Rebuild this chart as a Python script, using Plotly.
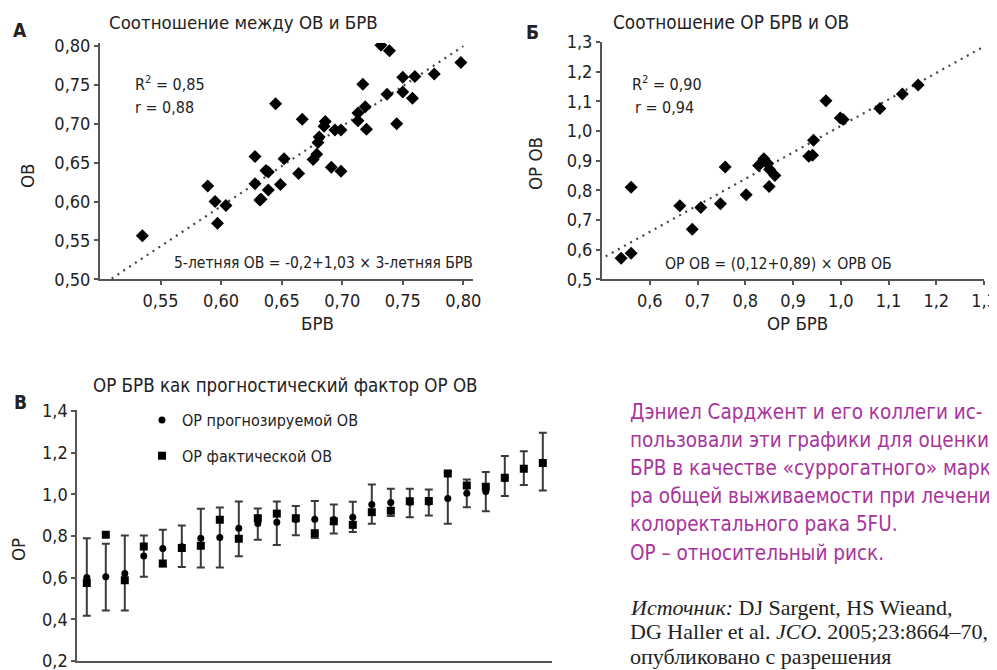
import plotly.graph_objects as go

# page body has an 8px margin: build the figure so that it fills the window exactly
OFF = 8
W, H = 997 - OFF, 670 - OFF
FONT = "DejaVu Sans Condensed, Liberation Sans Narrow, sans-serif"
SERIF = "Liberation Serif, DejaVu Serif, serif"
INK = "#222222"
AXC = "#555555"
MAG = "#A9339B"

# ---------------- Panel A data ----------------
a_brv = [0.535, 0.589, 0.595, 0.597, 0.604, 0.628, 0.628, 0.632, 0.633, 0.637,
         0.639, 0.639, 0.645, 0.649, 0.652, 0.664, 0.667, 0.676, 0.679, 0.680,
         0.681, 0.685, 0.686, 0.691, 0.694, 0.699, 0.699, 0.713, 0.713, 0.719,
         0.720, 0.717, 0.732, 0.739, 0.737, 0.745, 0.750, 0.750, 0.758, 0.760,
         0.776, 0.798]
a_ov = [0.556, 0.620, 0.600, 0.572, 0.595, 0.658, 0.623, 0.602, 0.603, 0.640,
        0.638, 0.615, 0.726, 0.622, 0.655, 0.636, 0.706, 0.654, 0.661, 0.676,
        0.683, 0.697, 0.703, 0.644, 0.692, 0.692, 0.639, 0.714, 0.704, 0.722,
        0.693, 0.751, 0.801, 0.794, 0.738, 0.700, 0.760, 0.741, 0.733, 0.761,
        0.764, 0.779]
a_trend_x = [0.500, 0.800]
a_trend_b0, a_trend_b1 = -0.024, 1.03
a_xticks = [0.55, 0.60, 0.65, 0.70, 0.75, 0.80]
a_yticks = [0.50, 0.55, 0.60, 0.65, 0.70, 0.75, 0.80]

# ---------------- Panel Б data ----------------
b_or_brv = [0.540, 0.561, 0.561, 0.663, 0.689, 0.707, 0.748, 0.758, 0.802, 0.828,
            0.839, 0.847, 0.851, 0.862, 0.850, 0.933, 0.941, 0.943, 0.969, 0.999,
            1.005, 1.082, 1.129, 1.162]
b_or_ov = [0.571, 0.588, 0.810, 0.748, 0.669, 0.742, 0.755, 0.879, 0.785, 0.884,
           0.906, 0.890, 0.870, 0.850, 0.813, 0.915, 0.918, 0.969, 1.102, 1.044,
           1.039, 1.076, 1.125, 1.155]
b_trend_x = [0.495, 1.300]
b_trend_b0, b_trend_b1 = 0.124, 0.893
b_xticks = [0.6, 0.7, 0.8, 0.9, 1.0, 1.1, 1.2, 1.3]
b_yticks = [0.5, 0.6, 0.7, 0.8, 0.9, 1.0, 1.1, 1.2, 1.3]

# ---------------- Panel В data ----------------
v_idx = list(range(1, 26))
v_pred = [0.601, 0.604, 0.620, 0.704, 0.740, 0.748, 0.789, 0.793, 0.837, 0.859,
          0.866, 0.879, 0.880, 0.879, 0.890, 0.951, 0.960, 0.962, 0.962, 0.980,
          1.005, 1.013, 1.074, 1.125, 1.152]
v_actual = [0.574, 0.806, 0.587, 0.749, 0.668, 0.742, 0.753, 0.877, 0.787, 0.885,
            0.907, 0.885, 0.813, 0.870, 0.853, 0.914, 0.921, 0.966, 0.968, 1.100,
            1.042, 1.036, 1.079, 1.122, 1.150]
v_lower = [0.417, 0.442, 0.442, 0.604, 0.655, 0.651, 0.648, 0.648, 0.702, 0.782,
           0.757, 0.803, 0.790, 0.811, 0.819, 0.858, 0.896, 0.890, 0.898, 0.858,
           0.938, 0.918, 0.991, 1.044, 1.018]
v_upper = [0.789, 0.763, 0.802, 0.802, 0.829, 0.850, 0.930, 0.936, 0.965, 0.931,
           0.965, 0.943, 0.968, 0.951, 0.964, 1.047, 1.026, 1.026, 1.023, 1.106,
           1.071, 1.106, 1.183, 1.206, 1.295]
v_yticks = [0.2, 0.4, 0.6, 0.8, 1.0, 1.2, 1.4]


def px(x):
    return (x - OFF) / W


def py(y):
    return 1 - (y - OFF) / H


fig = go.Figure()

# Panel A
fig.add_trace(go.Scatter(
    x=a_trend_x, y=[a_trend_b0 + a_trend_b1 * v for v in a_trend_x],
    mode="lines", line=dict(color="#444444", width=2.2, dash="2px,5px"),
    xaxis="x", yaxis="y", showlegend=False, hoverinfo="skip"))
fig.add_trace(go.Scatter(
    x=a_brv, y=a_ov, mode="markers",
    marker=dict(symbol="diamond", size=10, color="black"),
    xaxis="x", yaxis="y", showlegend=False))

# Panel Б
fig.add_trace(go.Scatter(
    x=b_trend_x, y=[b_trend_b0 + b_trend_b1 * v for v in b_trend_x],
    mode="lines", line=dict(color="#444444", width=2.2, dash="2px,5px"),
    xaxis="x2", yaxis="y2", showlegend=False, hoverinfo="skip"))
fig.add_trace(go.Scatter(
    x=b_or_brv, y=b_or_ov, mode="markers",
    marker=dict(symbol="diamond", size=10, color="black"),
    xaxis="x2", yaxis="y2", showlegend=False))

# Panel В
fig.add_trace(go.Scatter(
    x=v_idx, y=v_pred, mode="markers", name="ОР прогнозируемой ОВ",
    marker=dict(symbol="circle", size=7, color="black"),
    error_y=dict(type="data", symmetric=False,
                 array=[u - p for u, p in zip(v_upper, v_pred)],
                 arrayminus=[p - l for p, l in zip(v_pred, v_lower)],
                 color="#3a3a3a", thickness=2, width=4),
    xaxis="x3", yaxis="y3", legendgroup="a"))
fig.add_trace(go.Scatter(
    x=v_idx, y=v_actual, mode="markers", name="ОР фактической ОВ",
    marker=dict(symbol="square", size=8, color="black"),
    xaxis="x3", yaxis="y3", legendgroup="b"))

axis_common = dict(showline=True, linecolor=AXC, linewidth=2, showgrid=False,
                   zeroline=False, ticks="outside", ticklen=4, tickcolor=AXC,
                   tickwidth=1.5, ticklabeloverflow="allow",
                   tickfont=dict(family=FONT, size=18, color=INK))

fig.update_layout(
    width=W, height=H, margin=dict(l=0, r=0, t=0, b=0, autoexpand=False),
    paper_bgcolor="white", plot_bgcolor="white",
    separators=", ",
    font=dict(family=FONT, color=INK),
    xaxis=dict(domain=[px(100), px(473)], range=[0.50, 0.808], anchor="y",
               tickvals=a_xticks, tickformat=".2f", **axis_common),
    yaxis=dict(domain=[py(279.3), py(43)], range=[0.50, 0.804], anchor="x",
               tickvals=a_yticks, tickformat=".2f", **axis_common),
    xaxis2=dict(domain=[px(602), px(984)], range=[0.50, 1.30], anchor="y2",
                tickvals=b_xticks, tickformat=".1f", **axis_common),
    yaxis2=dict(domain=[py(279.3), py(42)], range=[0.50, 1.30], anchor="x2",
                tickvals=b_yticks, tickformat=".1f", **axis_common),
    xaxis3=dict(domain=[px(77.3), px(552.3)], range=[0.5, 25.5], anchor="y3",
                showline=True, linecolor=AXC, linewidth=2, showgrid=False,
                zeroline=False, showticklabels=False, ticks=""),
    yaxis3=dict(domain=[py(661), py(410)], range=[0.2, 1.404], anchor="x3",
                tickvals=v_yticks, tickformat=".1f", **axis_common),
    legend=dict(x=px(142), y=py(403), xanchor="left", yanchor="top",
                bgcolor="rgba(0,0,0,0)", font=dict(family=FONT, size=16, color=INK),
                traceorder="grouped", tracegroupgap=12, itemwidth=30),
)

ann = []


def text(x, y, s, size=18, anchor="left", color=INK, family=FONT, angle=0, bold=False):
    ann.append(dict(x=px(x), y=py(y), xref="paper", yref="paper", text=(f"<b>{s}</b>" if bold else s),
                    showarrow=False, xanchor=anchor, yanchor="middle", textangle=angle,
                    font=dict(family=family, size=size, color=color)))


# panel letters
text(20, 30, "А", size=19, anchor="center", bold=True)
text(532, 32, "Б", size=19, anchor="center", bold=True)
text(20, 402, "В", size=19, anchor="center", bold=True)

# titles
text(107, 22, "Соотношение между ОВ и БРВ", size=18.5)
text(611, 23, "Соотношение ОР БРВ и ОВ", size=18.8)
text(91, 385, "ОР БРВ как прогностический фактор ОР ОВ", size=18.6)

# axis titles
text(27, 176, "ОВ", size=18.5, anchor="center", angle=-90)
text(317, 323, "БРВ", size=18.5, anchor="center")
text(535, 164, "ОР ОВ", size=18.5, anchor="center", angle=-90)
text(797, 323, "ОР БРВ", size=18.5, anchor="center")
text(18, 550, "ОР", size=18.5, anchor="center", angle=-90)

# stats
text(133, 83, "R<sup>2</sup> = 0,85", size=16)
text(133, 108, "r = 0,88", size=16)
text(172, 263, "5-летняя ОВ = -0,2+1,03 × 3-летняя БРВ", size=15.5)
text(630, 83, "R<sup>2</sup> = 0,90", size=16)
text(633, 108, "r = 0,94", size=16)
text(663, 263, "ОР ОВ = (0,12+0,89) × ОРВ ОБ", size=15.7)

# right side description
desc = ["Дэниел Сарджент и его коллеги ис-",
        "пользовали эти графики для оценки",
        "БРВ в качестве «суррогатного» марке-",
        "ра общей выживаемости при лечении",
        "колоректального рака 5FU.",
        "ОР – относительный риск."]
desc_y = [412, 440, 468, 496, 524, 553]
for s, yy in zip(desc, desc_y):
    text(628, yy, s, size=20.5, color=MAG)

src = ["<i>Источник:</i> DJ Sargent, HS Wieand,",
       "DG Haller et al. <i>JCO</i>. 2005;23:8664–70,",
       "опубликовано с разрешения"]
src_y = [607, 631, 656]
for s, yy in zip(src, src_y):
    text(628, yy, s, size=22, color=INK, family=SERIF)

fig.update_layout(annotations=ann)
fig.write_html("out.html")
